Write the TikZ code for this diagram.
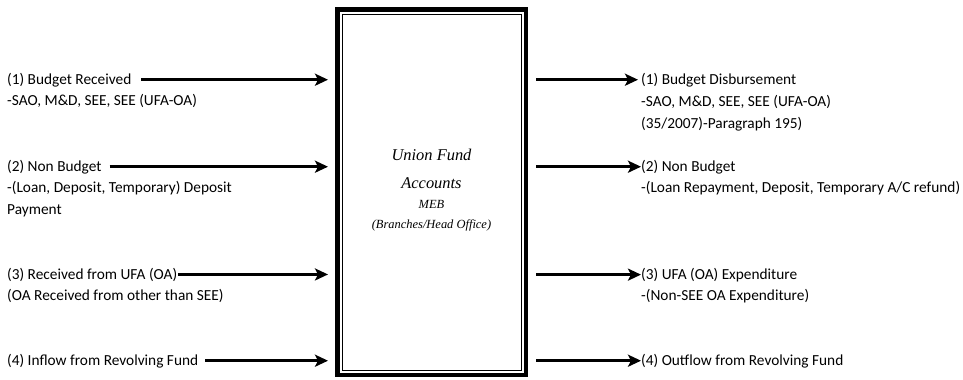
\documentclass[tikz,border=0pt]{standalone}
\usepackage{fontspec}
\setmainfont{Carlito}
\newfontfamily\boxfont{Liberation Serif}
\usetikzlibrary{arrows.meta}

\begin{document}
\begin{tikzpicture}[x = 1bp, y = -1bp,
	flow/.style = {line width = 2.6bp, -{Stealth[length = 13bp, width = 12bp, inset = 3bp]}},
	lbl/.style = {inner sep = 0pt, anchor = base west, font = \fontsize{15.4}{21.5}\selectfont},
	title/.style = {inner sep = 0pt, anchor = base, font = \boxfont\itshape\fontsize{16.5}{20}\selectfont},
	small/.style = {inner sep = 0pt, anchor = base, font = \boxfont\itshape\fontsize{12.5}{15}\selectfont}]
	\useasboundingbox (0,0) rectangle (963,379);
	
	% fund box
	\node[draw, line width = 4bp, minimum width = 189bp, minimum height = 366bp, inner sep = 0pt] (ufa) at (431.5,192) {};
	\draw[line width = 0.9bp] ([shift = {(4,4)}]ufa.north west) rectangle ([shift = {(-4,-4)}]ufa.south east);
	\draw[line width = 0.9bp] ([shift = {(7,7)}]ufa.north west) rectangle ([shift = {(-7,-7)}]ufa.south east);
	\node[title] (name1) at (431.5,160) {Union Fund};
	\node[title] (name2) at (431.5,188) {Accounts};
	\node[small] (name3) at (431.5,208) {MEB};
	\node[small] (name4) at (431.5,228) {(Branches/Head Office)};
	
	% inflows
	\node[lbl] (in1) at (7,84) {(1) Budget Received};
	\node[lbl] (in1a) at (7,105.5) {-SAO, M\&D, SEE, SEE (UFA-OA)};
	\node[lbl] (in2) at (7,171) {(2) Non Budget};
	\node[lbl] (in2a) at (7,192.5) {-(Loan, Deposit, Temporary) Deposit};
	\node[lbl] (in2b) at (7,214) {Payment};
	\node[lbl] (in3) at (7,279) {(3) Received from UFA (OA)};
	\node[lbl] (in3a) at (7,300.5) {(OA Received from other than SEE)};
	\node[lbl] (in4) at (7,365) {(4) Inflow from Revolving Fund};
	
	\draw[flow, shorten <= 10bp, shorten >= 7bp] (in1.east) -- (in1.east -| ufa.west);
	\draw[flow, shorten <= 8bp, shorten >= 7bp] (in2.east) -- (in2.east -| ufa.west);
	\draw[flow, shorten <= 1bp, shorten >= 7bp] (in3.east) -- (in3.east -| ufa.west);
	\draw[flow, shorten <= 7bp, shorten >= 7bp] (in4.east) -- (in4.east -| ufa.west);
	
	% outflows
	\node[lbl] (out1) at (641,84) {(1) Budget Disbursement};
	\node[lbl] (out1a) at (641,106.5) {-SAO, M\&D, SEE, SEE (UFA-OA)};
	\node[lbl] (out1b) at (641,128) {(35/2007)-Paragraph 195)};
	\node[lbl] (out2) at (641,171) {(2) Non Budget};
	\node[lbl] (out2a) at (641,192.5) {-(Loan Repayment, Deposit, Temporary A/C refund)};
	\node[lbl] (out3) at (641,279) {(3) UFA (OA) Expenditure};
	\node[lbl] (out3a) at (641,300.5) {-(Non-SEE OA Expenditure)};
	\node[lbl] (out4) at (641,365) {(4) Outflow from Revolving Fund};
	
	\draw[flow, shorten <= 8bp, shorten >= 3bp] (ufa.east |- out1.west) -- (out1.west);
	\draw[flow, shorten <= 8bp] (ufa.east |- out2.west) -- (out2.west);
	\draw[flow, shorten <= 8bp] (ufa.east |- out3.west) -- (out3.west);
	\draw[flow, shorten <= 8bp] (ufa.east |- out4.west) -- (out4.west);
\end{tikzpicture}
\end{document}
